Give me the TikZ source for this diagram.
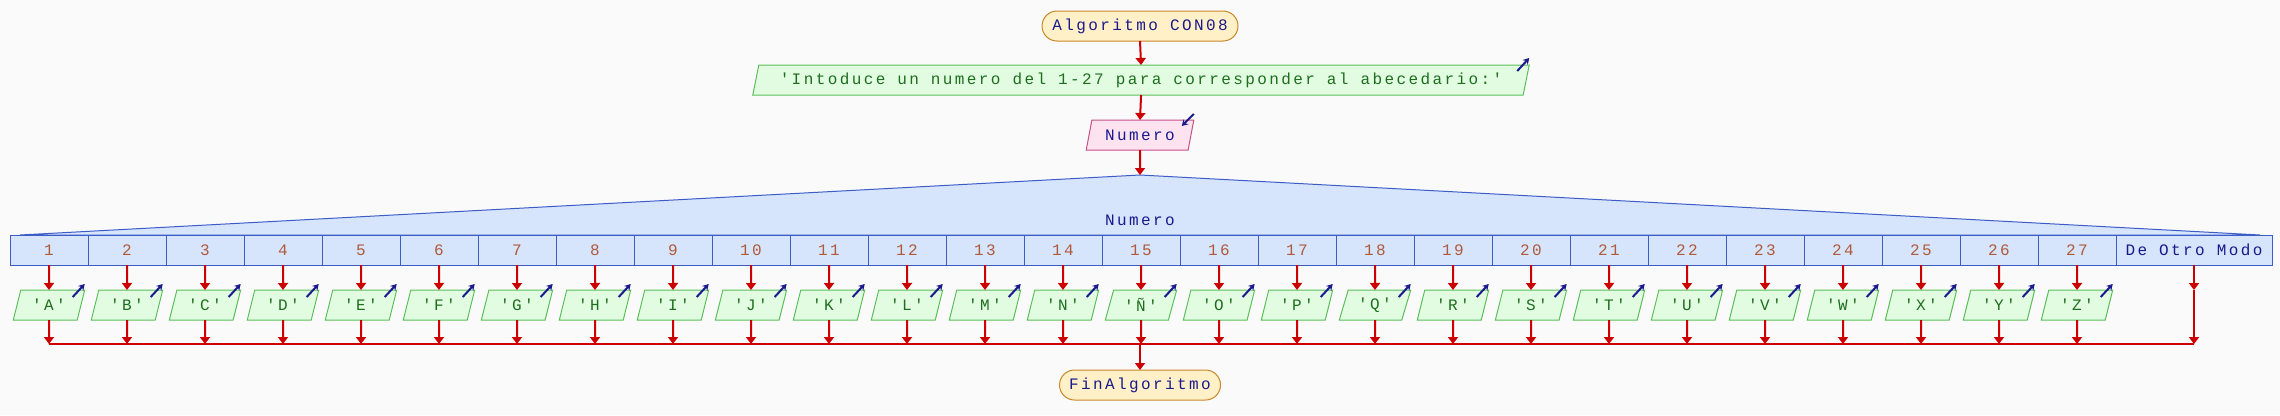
\documentclass[tikz,border=0pt]{standalone}
\usepackage{fontspec}
\setmonofont{Liberation Mono}[LetterSpace=15]
\usetikzlibrary{shapes.geometric,arrows.meta}
\definecolor{bg}{HTML}{FAFAFA}
\definecolor{flowc}{HTML}{CC0000}
\definecolor{termf}{HTML}{FFF0C8}
\definecolor{termb}{HTML}{C8882A}
\definecolor{outf}{HTML}{E2FCE2}
\definecolor{outb}{HTML}{5CBF5C}
\definecolor{outt}{HTML}{1E6E1E}
\definecolor{inf}{HTML}{FDE3F0}
\definecolor{inb}{HTML}{C8508A}
\definecolor{casef}{HTML}{D6E4FC}
\definecolor{caseb}{HTML}{3C5CC8}
\definecolor{numc}{HTML}{B05A3C}
\definecolor{navy}{HTML}{1A1A8C}
\begin{document}
\begin{tikzpicture}[x=1pt,y=-1pt,
  font=\ttfamily\fontsize{16}{18}\selectfont,
  flow/.style={draw=flowc, line width=2pt, -{Triangle[length=7pt,width=10pt]}},
  plainline/.style={draw=flowc, line width=2pt},
  term/.style={rectangle, rounded corners=15pt, draw=termb, fill=termf, line width=1pt, minimum height=30pt, inner sep=0pt, outer sep=0pt, text=navy},
  para/.style={trapezium, trapezium left angle=69, trapezium right angle=111, trapezium stretches=true, line width=1pt, minimum height=30pt, inner sep=0pt, outer sep=0pt},
  outbox/.style={para, draw=outb, fill=outf, text=outt},
  inbox/.style={para, draw=inb, fill=inf, text=navy},
  cell/.style={rectangle, draw=caseb, fill=casef, line width=1pt, minimum width=78pt, minimum height=30pt, inner sep=0pt, outer sep=0pt, text=numc},
  icon/.style={draw=navy, line width=2pt, -{Stealth[length=6pt,width=7pt]}}
]
\fill[bg] (0,0) rectangle (2280,415);
\useasboundingbox (0,0) rectangle (2280,415);

\node[term, minimum width=196pt] (start) at (1140,26) {Algoritmo CON08};
\node[outbox, minimum width=779pt] (out) at (1141,80) {'Intoduce un numero del 1-27 para corresponder al abecedario:'};
\node[inbox, minimum width=108pt] (in) at (1140,135) {Numero};
\draw[icon] ([xshift=-12pt,yshift=-6pt]out.top right corner) -- ([yshift=7pt]out.top right corner);
\draw[icon] ([yshift=6pt]in.top right corner) -- ([xshift=-12pt,yshift=-6pt]in.top right corner);

\coordinate (apex) at (1140,175);
\filldraw[fill=casef, draw=caseb, line width=1pt] (20,235) -- (apex) -- (2260,235) -- cycle;
\node[text=navy] (sel) at (1140,220) {Numero};

\draw[flow] (start.south) -- (out.north);
\draw[flow] (out.south) -- (in.north);
\draw[flow] (in.south) -- (apex);

\foreach \l [count=\i] in {A,B,C,D,E,F,G,H,I,J,K,L,M,N,Ñ,O,P,Q,R,S,T,U,V,W,X,Y,Z} {
  \pgfmathsetmacro\cx{49+78*(\i-1)}
  \node[cell] (c\i) at (\cx,250) {\i};
  \node[outbox, minimum width=71.5pt] (p\i) at (\cx,305) {'\l'};
  \coordinate (j\i) at (\cx,344);
  \draw[flow] (c\i.south) -- (p\i.north);
  \draw[flow] (p\i.south) -- (j\i);
  \draw[icon] ([xshift=-12pt,yshift=-7pt]p\i.top right corner) -- ([yshift=6pt]p\i.top right corner);
}
\node[cell, minimum width=156pt, text=navy] (cd) at (2194,250) {De Otro Modo};
\coordinate (dmid) at (2194,290);
\coordinate (jd) at (2194,344);
\draw[flow] (cd.south) -- (dmid);
\draw[flow] (dmid) -- (jd);
\draw[plainline] (j1) -- (jd);

\node[term, minimum width=161pt] (fin) at (1140,385) {FinAlgoritmo};
\coordinate (jm) at (1140,344);
\draw[flow] (jm) -- (fin.north);
\end{tikzpicture}
\end{document}
